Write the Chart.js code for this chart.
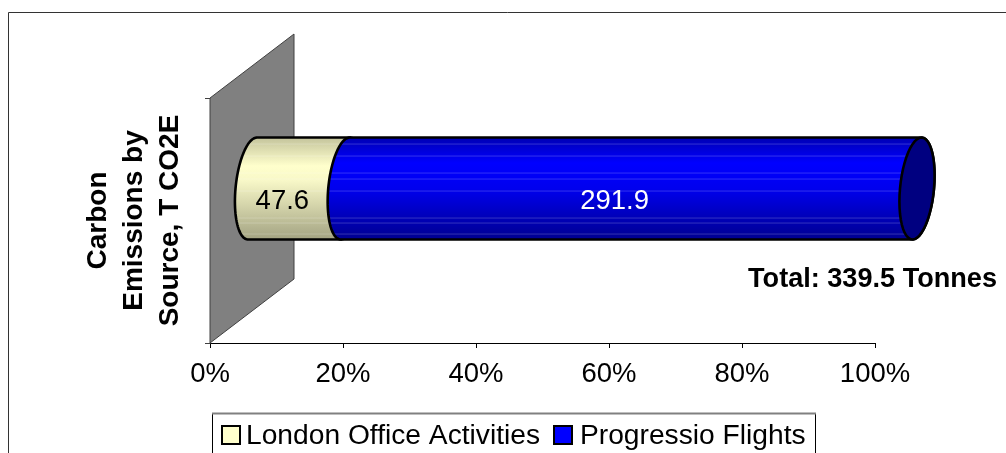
<!DOCTYPE html>
<html><head><meta charset="utf-8">
<style>html,body{margin:0;padding:0;background:#fff;overflow:hidden}canvas{display:block}</style>
<script src="https://cdn.jsdelivr.net/npm/chart.js@4"></script>
</head><body><canvas id="c" width="1006" height="453"></canvas>
<script>
const categories = ['Carbon Emissions by Source, T CO2E'];
const axisTitleLines = ['Carbon', 'Emissions by', 'Source, T CO2E'];
const seriesNames = ['London Office Activities', 'Progressio Flights'];
const londonValues = [47.6];
const flightValues = [291.9];
const totalTonnes = 339.5;
const totalLabel = 'Total: 339.5 Tonnes';
const toShare = v => v / totalTonnes * 100;
const FONT = '"Liberation Sans", Arial, sans-serif';

const swatchColors = ['#ffffcc', '#0000ff'];
const bodyStops = [
  [[0, '#c4c49c'], [.28, '#ffffcc'], [.42, '#f8f8c8'], [1, '#a3a382']],
  [[0, '#0000b4'], [.25, '#0000ff'], [.5, '#0000ee'], [1, '#000090']]
];
const endCapColor = '#000080';
const streakOffsets = [6, 18, 35, 41, 53, 80, 85, 96];
const DEPTH = {x: 84, y: -64};

const cylinder = {
  id: 'cylinder',
  beforeDraw(chart) {
    const c = chart.ctx;
    c.save();
    c.strokeStyle = '#333';
    c.lineWidth = 1;
    c.beginPath();
    c.moveTo(8.5, 453); c.lineTo(8.5, 12.5); c.lineTo(1006, 12.5);
    c.stroke();
    c.restore();
  },
  beforeDatasetsDraw(chart) {
    const c = chart.ctx, a = chart.chartArea;
    c.save();
    c.beginPath();
    c.moveTo(a.left, a.top);
    c.lineTo(a.left + DEPTH.x, a.top + DEPTH.y);
    c.lineTo(a.left + DEPTH.x, a.bottom + DEPTH.y);
    c.lineTo(a.left, a.bottom);
    c.closePath();
    c.fillStyle = '#808080';
    c.fill();
    c.strokeStyle = '#404040';
    c.lineWidth = 1;
    c.stroke();
    c.restore();
  },
  afterDatasetsDraw(chart) {
    const c = chart.ctx;
    const A = 17, SK = 4.5;
    const ell = (cx, cy, h, from, to, first) => {
      const n = 48;
      for (let i = 0; i <= n; i++) {
        const t = from + (to - from) * i / n;
        const x = cx + A * Math.cos(t) - SK * Math.sin(t);
        const y = cy + h * Math.sin(t);
        (first && i === 0) ? c.moveTo(x, y) : c.lineTo(x, y);
      }
    };
    const metas = chart.data.datasets.map((d, i) => chart.getDatasetMeta(i).data[0]);
    let end = null;
    metas.forEach((el, i) => {
      const x0 = el.base + DEPTH.x / 2, x1 = el.x + DEPTH.x / 2;
      const cy = el.y + DEPTH.y / 2, h = el.height / 2;
      const shape = () => {
        c.beginPath();
        ell(x0, cy, h, -Math.PI / 2, -3 * Math.PI / 2, true);
        ell(x1, cy, h, Math.PI / 2, -Math.PI / 2, false);
        c.closePath();
      };
      c.save();
      shape();
      const g = c.createLinearGradient(0, cy - h, 0, cy + h);
      bodyStops[i].forEach(s => g.addColorStop(s[0], s[1]));
      c.fillStyle = g;
      c.fill();
      c.save();
      c.clip();
      c.strokeStyle = 'rgba(255,255,255,.2)';
      c.lineWidth = 1;
      streakOffsets.forEach(o => {
        c.beginPath();
        c.moveTo(x0 - 30, cy - h + o + .5);
        c.lineTo(x1 + 30, cy - h + o + .5);
        c.stroke();
      });
      c.restore();
      shape();
      c.strokeStyle = '#000';
      c.lineWidth = 2.6;
      c.lineJoin = 'round';
      c.stroke();
      c.restore();
      end = {x1, cy, h};
    });
    c.save();
    c.beginPath();
    ell(end.x1, end.cy, end.h, 0, Math.PI * 2, true);
    c.closePath();
    c.fillStyle = endCapColor;
    c.fill();
    c.strokeStyle = '#000';
    c.lineWidth = 2.6;
    c.stroke();
    c.restore();
    c.save();
    c.textAlign = 'center';
    c.textBaseline = 'middle';
    c.font = '27.5px ' + FONT;
    metas.forEach((el, i) => {
      const ds = chart.data.datasets[i];
      c.fillStyle = i === 0 ? '#000' : '#fff';
      c.fillText(String(ds.rawValues[0]), (el.base + el.x) / 2 + 25.5, el.y - 19);
    });
    c.restore();
    c.save();
    c.textAlign = 'center';
    c.textBaseline = 'middle';
    c.font = 'bold 27.1px ' + FONT;
    c.fillStyle = '#000';
    c.fillText(totalLabel, 872.5, 279.5);
    c.restore();
    c.save();
    c.strokeStyle = '#000';
    c.lineWidth = 1;
    c.beginPath();
    c.moveTo(212.5, 453); c.lineTo(212.5, 413.5);
    c.moveTo(815.5, 413.5); c.lineTo(815.5, 453);
    c.stroke();
    c.strokeStyle = '#808080';
    c.lineWidth = 2;
    c.beginPath();
    c.moveTo(212, 413.5); c.lineTo(816, 413.5);
    c.stroke();
    const boxX = [222, 554], textX = [246, 580];
    c.font = '28.2px ' + FONT;
    c.textAlign = 'left';
    c.textBaseline = 'middle';
    chart.data.datasets.forEach((ds, i) => {
      c.fillStyle = swatchColors[i];
      c.fillRect(boxX[i], 426, 18, 18);
      c.strokeStyle = '#000';
      c.lineWidth = 2;
      c.strokeRect(boxX[i], 426, 18, 18);
      c.fillStyle = '#000';
      c.fillText(ds.label, textX[i], 436.5);
    });
    c.restore();
  }
};

new Chart(document.getElementById('c'), {
  type: 'bar',
  data: {
    labels: categories,
    datasets: [
      {label: seriesNames[0], data: londonValues.map(toShare), rawValues: londonValues, backgroundColor: 'rgba(0,0,0,0)', borderWidth: 0},
      {label: seriesNames[1], data: flightValues.map(toShare), rawValues: flightValues, backgroundColor: 'rgba(0,0,0,0)', borderWidth: 0}
    ]
  },
  options: {
    indexAxis: 'y',
    responsive: false,
    animation: false,
    layout: {padding: {left: 0, right: 131, top: 98, bottom: 0}},
    plugins: {legend: {display: false}, tooltip: {enabled: false}, title: {display: false}},
    datasets: {bar: {categoryPercentage: 1, barPercentage: 0.416}},
    scales: {
      x: {
        stacked: true, min: 0, max: 100,
        ticks: {stepSize: 20, color: '#000', font: {family: FONT, size: 27.5}, padding: 10, maxRotation: 0, autoSkip: false, callback: v => v + '%'},
        grid: {drawOnChartArea: false, drawTicks: true, tickLength: 5, tickColor: '#000', lineWidth: 1},
        border: {display: true, color: '#000', width: 1},
        afterFit(s) { s.height = 110; }
      },
      y: {
        stacked: true,
        ticks: {display: false},
        grid: {drawOnChartArea: false, drawTicks: true, tickLength: 5, tickColor: '#404040', lineWidth: 1, offset: true},
        border: {display: true, color: '#222', width: 1},
        title: {display: true, text: axisTitleLines, color: '#000', font: {family: FONT, size: 28, weight: 'bold', lineHeight: 1.286}, padding: {top: 80, bottom: 0}},
        afterFit(s) { s.width = 210; }
      }
    }
  },
  plugins: [cylinder]
});
</script></body></html>
